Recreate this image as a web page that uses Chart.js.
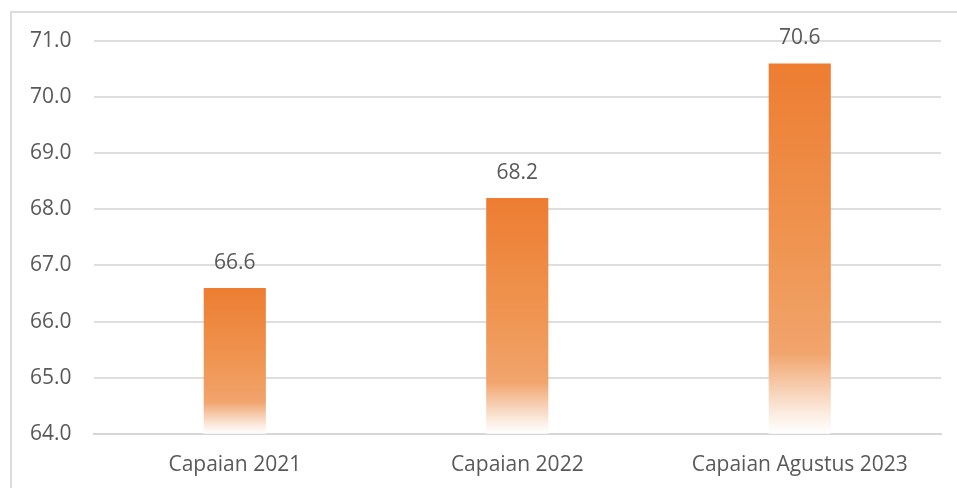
<!DOCTYPE html>
<html>
<head>
<meta charset="utf-8">
<script src="https://cdn.jsdelivr.net/npm/chart.js@4.4.0/dist/chart.umd.min.js"></script>
<style>
  html, body { margin: 0; padding: 0; background: #fff; }
  #wrap { position: relative; width: 957px; height: 488px; overflow: hidden; }
  #frame { position: absolute; left: 10px; top: 11px; width: 980px; height: 500px; border: 2px solid #dcdcdc; pointer-events: none; }
</style>
</head>
<body>
<div id="wrap">
  <canvas id="grafik" width="957" height="488"></canvas>
  <div id="frame"></div>
</div>
<script>
// Data capaian
var kategori = ['Capaian 2021', 'Capaian 2022', 'Capaian Agustus 2023'];
var nilai = [66.6, 68.2, 70.6];
var sumbuMin = 64;
var sumbuMax = 71;

var warnaTeks = '#595959';
var fontUtama = "'Open Sans', 'Noto Sans', sans-serif";

// Gradasi oranye ke putih, dihitung dari skala y
function gradasiBatang(context) {
  var chart = context.chart;
  if (!chart.chartArea || context.dataIndex === undefined) return '#ED7D31';
  var skalaY = chart.scales.y;
  var atas = skalaY.getPixelForValue(nilai[context.dataIndex]);
  var bawah = skalaY.getPixelForValue(sumbuMin);
  var g = chart.ctx.createLinearGradient(0, atas, 0, bawah);
  g.addColorStop(0, '#ED7D31');
  g.addColorStop(0.5, '#EF9552');
  g.addColorStop(0.78, '#F1A46C');
  g.addColorStop(0.88, '#F7D0B4');
  g.addColorStop(0.95, '#FCEEE4');
  g.addColorStop(1, '#FFFFFF');
  return g;
}

// Label nilai di atas batang
var labelNilai = {
  id: 'labelNilai',
  afterDatasetsDraw: function(chart) {
    var ctx = chart.ctx;
    var meta = chart.getDatasetMeta(0);
    ctx.save();
    ctx.font = '21px ' + fontUtama;
    ctx.fillStyle = warnaTeks;
    ctx.textAlign = 'center';
    ctx.textBaseline = 'middle';
    meta.data.forEach(function(bar, i) {
      ctx.fillText(nilai[i].toFixed(1), bar.x, bar.y - 25);
    });
    ctx.restore();
  }
};

var ctx = document.getElementById('grafik').getContext('2d');
var grafik = new Chart(ctx, {
  type: 'bar',
  data: {
    labels: kategori,
    datasets: [{
      data: nilai,
      backgroundColor: gradasiBatang,
      borderWidth: 0,
      barPercentage: 1,
      categoryPercentage: 0.22
    }]
  },
  options: {
    responsive: false,
    animation: false,
    layout: { padding: { top: 41, left: 8, right: 16, bottom: -9 } },
    plugins: {
      legend: { display: false },
      tooltip: { enabled: false }
    },
    scales: {
      x: {
        grid: { display: false, drawTicks: false },
        border: { display: true, color: '#d6d6d6', width: 2 },
        ticks: { color: warnaTeks, font: { family: fontUtama, size: 21 }, padding: 19 }
      },
      y: {
        min: sumbuMin,
        max: sumbuMax,
        grid: { color: '#dedede', lineWidth: 2, drawTicks: false },
        border: { display: false },
        ticks: {
          stepSize: 1,
          color: warnaTeks,
          padding: 22,
          font: { family: fontUtama, size: 21 },
          callback: function(v) { return Number(v).toFixed(1); }
        }
      }
    }
  },
  plugins: [labelNilai]
});
</script>
</body>
</html>
